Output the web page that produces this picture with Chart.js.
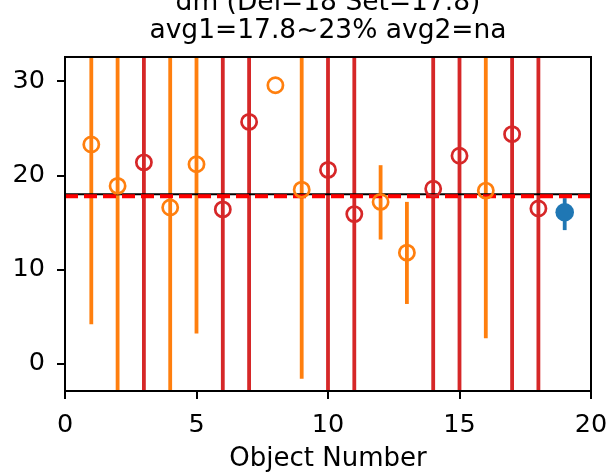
<!DOCTYPE html>
<html>
<head>
<meta charset="utf-8">
<script src="https://cdn.jsdelivr.net/npm/chart.js@4"></script>
<style>
  html, body { margin: 0; padding: 0; background: #fff; }
  #wrap { width: 614px; height: 473px; }
</style>
</head>
<body>
<div id="wrap"><canvas id="chart" width="614" height="473"></canvas></div>
<script>
// data
const objNum = [1, 2, 3, 4, 5, 6, 7, 8, 9, 10, 11, 12, 13, 14, 15, 16, 17, 18, 19];
const values = [23.3, 18.9, 21.4, 16.6, 21.2, 16.4, 25.7, 29.6, 18.5, 20.6, 15.9, 17.2, 11.8, 18.6, 22.1, 18.4, 24.4, 16.5, 16.1];
const errLow = [19.1, 60, 60, 60, 18.0, 60, 60, 0, 20.1, 60, 60, 4.0, 5.45, 60, 60, 15.7, 60, 60, 1.9];
const errHigh = [19.1, 60, 60, 60, 18.0, 60, 60, 0, 20.1, 60, 60, 3.9, 5.4, 60, 60, 15.7, 60, 60, 1.5];
const group = ['o', 'o', 'r', 'o', 'o', 'r', 'r', 'o', 'o', 'r', 'r', 'o', 'o', 'r', 'r', 'o', 'r', 'r', 'b'];
const delValue = 18;
const avgValue = 17.8;
const xTicks = [0, 5, 10, 15, 20];
const yTicks = [0, 10, 20, 30];
const titleLines = ['dm (Del=18 Set=17.8)', 'avg1=17.8~23% avg2=na'];

const colors = { o: '#ff7f0e', r: '#d62728', b: '#1f77b4' };
const FONT = 'DejaVu Sans';

function pointsOf(g) {
    return objNum.map((x, i) => ({ x: x, y: values[i], g: group[i] }))
        .filter(p => p.g === g);
}

// error bars drawn through the chart scales
const errorBars = {
    id: 'errorBars',
    beforeDatasetsDraw(chart) {
        const { ctx, chartArea, scales } = chart;
        ctx.save();
        ctx.beginPath();
        ctx.rect(chartArea.left, chartArea.top, chartArea.right - chartArea.left, chartArea.bottom - chartArea.top);
        ctx.clip();
        ctx.lineWidth = 3.8;
        objNum.forEach((x, i) => {
            if (!errLow[i] && !errHigh[i]) return;
            const px = scales.x.getPixelForValue(x);
            ctx.strokeStyle = colors[group[i]];
            ctx.beginPath();
            ctx.moveTo(px, scales.y.getPixelForValue(values[i] - errLow[i]));
            ctx.lineTo(px, scales.y.getPixelForValue(values[i] + errHigh[i]));
            ctx.stroke();
        });
        ctx.restore();
    }
};

// top and right spines, and title centred over the axes
const frame = {
    id: 'frame',
    afterLayout(chart) {
        if (chart.titleBlock) {
            chart.titleBlock.left = chart.chartArea.left;
            chart.titleBlock.right = chart.chartArea.right;
        }
    },
    afterDraw(chart) {
        const { ctx, chartArea } = chart;
        ctx.save();
        ctx.strokeStyle = '#000';
        ctx.lineWidth = 2;
        ctx.strokeRect(chartArea.left, chartArea.top, chartArea.right - chartArea.left, chartArea.bottom - chartArea.top);
        ctx.restore();
    }
};

const ctx = document.getElementById('chart').getContext('2d');
new Chart(ctx, {
    type: 'scatter',
    data: {
        datasets: [
            {
                type: 'line',
                data: [{ x: xTicks[0], y: delValue }, { x: xTicks[xTicks.length - 1], y: delValue }],
                borderColor: '#000',
                borderWidth: 2,
                pointRadius: 0,
                order: 3
            },
            {
                type: 'line',
                data: [{ x: xTicks[0], y: avgValue }, { x: xTicks[xTicks.length - 1], y: avgValue }],
                borderColor: '#ff0000',
                borderWidth: 4,
                borderDash: [13, 6],
                pointRadius: 0,
                order: 2
            },
            {
                data: pointsOf('o'),
                pointStyle: 'circle',
                pointRadius: 7.6,
                borderWidth: 2.7,
                borderColor: colors.o,
                backgroundColor: 'rgba(0,0,0,0)',
                order: 1
            },
            {
                data: pointsOf('r'),
                pointStyle: 'circle',
                pointRadius: 7.6,
                borderWidth: 2.7,
                borderColor: colors.r,
                backgroundColor: 'rgba(0,0,0,0)',
                order: 1
            },
            {
                data: pointsOf('b'),
                pointStyle: 'circle',
                pointRadius: 9.3,
                borderWidth: 0,
                borderColor: colors.b,
                backgroundColor: colors.b,
                order: 0
            }
        ]
    },
    options: {
        responsive: false,
        animation: false,
        layout: { padding: { left: 0, right: 23, top: 0, bottom: 0 } },
        plugins: {
            legend: { display: false },
            tooltip: { enabled: false },
            title: {
                display: true,
                text: titleLines,
                color: '#000',
                font: { family: FONT, size: 26.5, weight: 'normal', lineHeight: 1.064 },
                padding: { top: -10.8, bottom: 11.4 }
            }
        },
        scales: {
            x: {
                type: 'linear',
                min: xTicks[0],
                max: xTicks[xTicks.length - 1],
                afterBuildTicks: scale => { scale.ticks = xTicks.map(v => ({ value: v })); },
                afterFit: scale => {
                    scale.height = 82;
                    scale.paddingLeft = 0;
                    scale.paddingRight = 0;
                },
                ticks: { color: '#000', font: { family: FONT, size: 25.5 }, padding: 11, maxRotation: 0 },
                grid: { drawOnChartArea: false, drawTicks: true, tickLength: 8, color: '#000', lineWidth: 2 },
                border: { display: true, color: '#000', width: 2 },
                title: {
                    display: true,
                    text: 'Object Number',
                    color: '#000',
                    font: { family: FONT, size: 26 },
                    padding: { top: 0, bottom: -2 }
                }
            },
            y: {
                min: -2.9,
                max: 32.6,
                afterBuildTicks: scale => { scale.ticks = yTicks.map(v => ({ value: v })); },
                afterFit: scale => { scale.width = 65; },
                ticks: { color: '#000', font: { family: FONT, size: 25.5 }, padding: 12 },
                grid: { drawOnChartArea: false, drawTicks: true, tickLength: 8, color: '#000', lineWidth: 2 },
                border: { display: true, color: '#000', width: 2 }
            }
        }
    },
    plugins: [errorBars, frame]
});
</script>
</body>
</html>
